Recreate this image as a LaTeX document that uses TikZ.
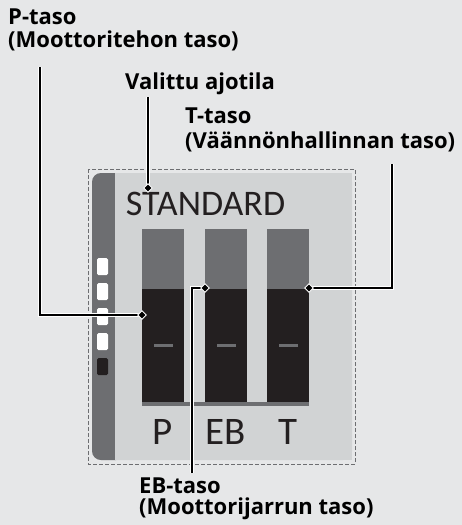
\documentclass[tikz,border=0pt]{standalone}
\usepackage{fontspec}
\setmainfont{Open Sans}
\newfontfamily\dispfont{Carlito}
\usetikzlibrary{shapes.geometric}
\definecolor{bgc}{HTML}{E6E7E8}
\definecolor{panelc}{HTML}{D1D3D4}
\definecolor{midg}{HTML}{6D6E71}
\definecolor{darkc}{HTML}{231F20}
\tikzset{
  lbl/.style={anchor=base west, inner sep=0pt, font=\fontsize{22}{24}\selectfont\bfseries, text=black, align=left},
  disp/.style={anchor=base, inner sep=0pt, text=darkc},
  conn/.style={draw=white, double=black, double distance=2pt, line width=0.9pt},
  pin/.style={diamond, fill=black, draw=white, line width=0.9pt, inner sep=0pt, minimum size=9pt},
  barup/.style={fill=midg},
  bardn/.style={fill=darkc},
  ledw/.style={fill=white, rounded corners=1.5pt},
  ledd/.style={fill=darkc, rounded corners=1.5pt},
}
\begin{document}
\begin{tikzpicture}[x=1pt,y=-1pt]
\useasboundingbox[fill=bgc] (0,0) rectangle (462,525);
% panel
\fill[panelc, rounded corners=9pt] (92,173) rectangle (352,460);
\fill[panelc] (110,173) rectangle (352,460);
\fill[midg, rounded corners=9pt] (92,173) rectangle (125,460);
\fill[panelc] (115,173) rectangle (130,460);
\draw[midg, line width=1pt, dash pattern=on 4pt off 2pt] (88,169) rectangle (355,464);
% leds
\foreach \y in {258,283,308,333} \fill[ledw] (97,\y) rectangle (108,\y+17);
\fill[ledd] (97,358) rectangle (108,375);
% bars
\foreach \x in {142,205,267} {
  \fill[barup] (\x,229) rectangle (\x+42,289);
  \fill[bardn] (\x,289) rectangle (\x+42,402);
  \fill[midg] (\x+12,344) rectangle (\x+31,347);
}
\fill[midg] (142,402) rectangle (309,406);
% display text
\node[disp, font=\dispfont\fontsize{36}{40}\selectfont] (mode) at (205.5,215) {STANDARD};
\node[disp, font=\dispfont\fontsize{39}{42}\selectfont] (lp) at (163,444) {P};
\node[disp, font=\dispfont\fontsize{39}{42}\selectfont] (leb) at (226,444) {EB};
\node[disp, font=\dispfont\fontsize{39}{42}\selectfont] (lt) at (288,444) {T};
% labels
\node[lbl] (tp1) at (8,24) {P-taso};
\node[lbl] (tp2) at (8,47) {(Moottoritehon taso)};
\node[lbl] (tv) at (125,89) {Valittu ajotila};
\node[lbl] (tt1) at (185,123) {T-taso};
\node[lbl] (tt2) at (185,148) {(Väännönhallinnan taso)};
\node[lbl] (te1) at (139,493) {EB-taso};
\node[lbl] (te2) at (139,514) {(Moottorijarrun taso)};
% connector points
\coordinate (pstart) at (40,67);
\coordinate (pbend) at (40,315);
\coordinate (vstart) at (148,97);
\coordinate (tstart) at (392,164);
\coordinate (tbend) at (392,288);
\coordinate (ebend) at (192,288);
\coordinate (eend) at (192,473);
\draw[conn] (pstart) -- (pbend) -- (142,315) coordinate (pp);
\draw[conn] (vstart) -- (148,188) coordinate (pv);
\draw[conn] (tstart) -- (tbend) -- (309,288) coordinate (pt);
\draw[conn] (eend) -- (ebend) -- (205,288) coordinate (pe);
\node[pin] (dp) at (pp) {};
\node[pin] (dv) at (pv) {};
\node[pin] (dt) at (pt) {};
\node[pin] (de) at (pe) {};
\end{tikzpicture}
\end{document}
